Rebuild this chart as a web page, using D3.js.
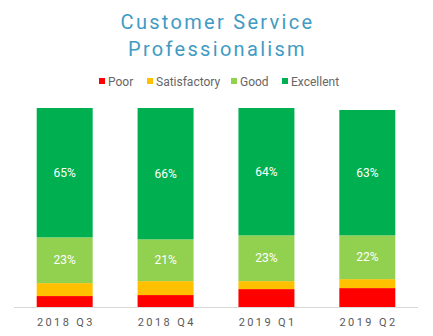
<!DOCTYPE html>
<html><head><meta charset="utf-8">
<script src="https://cdn.jsdelivr.net/npm/d3@7"></script>
<style>html,body{margin:0;padding:0;background:#fff;}svg{display:block;font-family:Roboto,sans-serif;}</style>
</head><body>
<svg id="c" width="433" height="336"></svg>
<script>
const categories = ["2018 Q3", "2018 Q4", "2019 Q1", "2019 Q2"];
const seriesNames = ["Poor", "Satisfactory", "Good", "Excellent"];
const poor = [5.5, 6, 9, 9.5];
const satisfactory = [6.5, 7, 4, 4.5];
const good = [23, 21, 23, 22];
const excellent = [65, 66, 64, 63];
const colors = ["#ff0000", "#ffc000", "#92d050", "#00b050"];
const showLabel = [false, false, true, true];
const titleLines = ["Customer Service", "Professionalism"];

const svg = d3.select("#c");
const W = 433, H = 336;
const margin = {left: 14, right: 15, top: 108, bottom: 29};
const series = [poor, satisfactory, good, excellent];
const rows = categories.map((c, i) => {
  const r = {cat: c};
  seriesNames.forEach((s, j) => r[s] = series[j][i]);
  return r;
});
const stacked = d3.stack().keys(seriesNames)(rows);

const x = d3.scaleBand().domain(categories).range([margin.left, W - margin.right]).paddingInner(0.445).paddingOuter(0.225);
const y = d3.scaleLinear().domain([0, 100]).range([H - margin.bottom, margin.top]);

// title
svg.append("g").selectAll("text").data(titleLines).join("text")
  .attr("x", 217.5).attr("y", (d, i) => 29 + i * 27)
  .attr("text-anchor", "middle").attr("fill", "#3f9bc3")
  .style("font-size", "20px").style("letter-spacing", "2.3px").text(d => d);

// legend
const legendX = [99, 147, 231, 282];
const lg = svg.append("g");
seriesNames.forEach((s, i) => {
  lg.append("rect").attr("x", legendX[i]).attr("y", 78).attr("width", 6).attr("height", 6).attr("fill", colors[i]);
  lg.append("text").attr("x", legendX[i] + 9).attr("y", 85.5).attr("fill", "#666")
    .style("font-size", "12px").text(s);
});

// bars
stacked.forEach((layer, j) => {
  const g = svg.append("g");
  g.selectAll("rect").data(layer).join("rect")
    .attr("x", d => x(d.data.cat)).attr("width", x.bandwidth())
    .attr("y", d => y(d[1])).attr("height", d => y(d[0]) - y(d[1]))
    .attr("fill", colors[j]);
  if (showLabel[j]) {
    g.selectAll("text").data(layer).join("text")
      .attr("x", d => x(d.data.cat) + x.bandwidth() / 2)
      .attr("y", d => (y(d[0]) + y(d[1])) / 2)
      .attr("dy", "0.35em").attr("text-anchor", "middle").attr("fill", "#fff")
      .style("font-size", "12px").text(d => Math.round(d[1] - d[0]) + "%");
  }
});

// axis
const ax = svg.append("g").attr("transform", `translate(0,${y(0)})`)
  .call(d3.axisBottom(x).tickSize(0).tickPadding(11));
ax.select(".domain").attr("stroke", "#d9d9d9").attr("d", `M${margin.left},0.5H${W - margin.right}`);
ax.selectAll("text").attr("fill", "#595959").attr("dx", "1.2px").style("font-size", "11px").style("letter-spacing", "2.4px")
  .style("font-family", "Roboto,sans-serif");
</script>
</body></html>
